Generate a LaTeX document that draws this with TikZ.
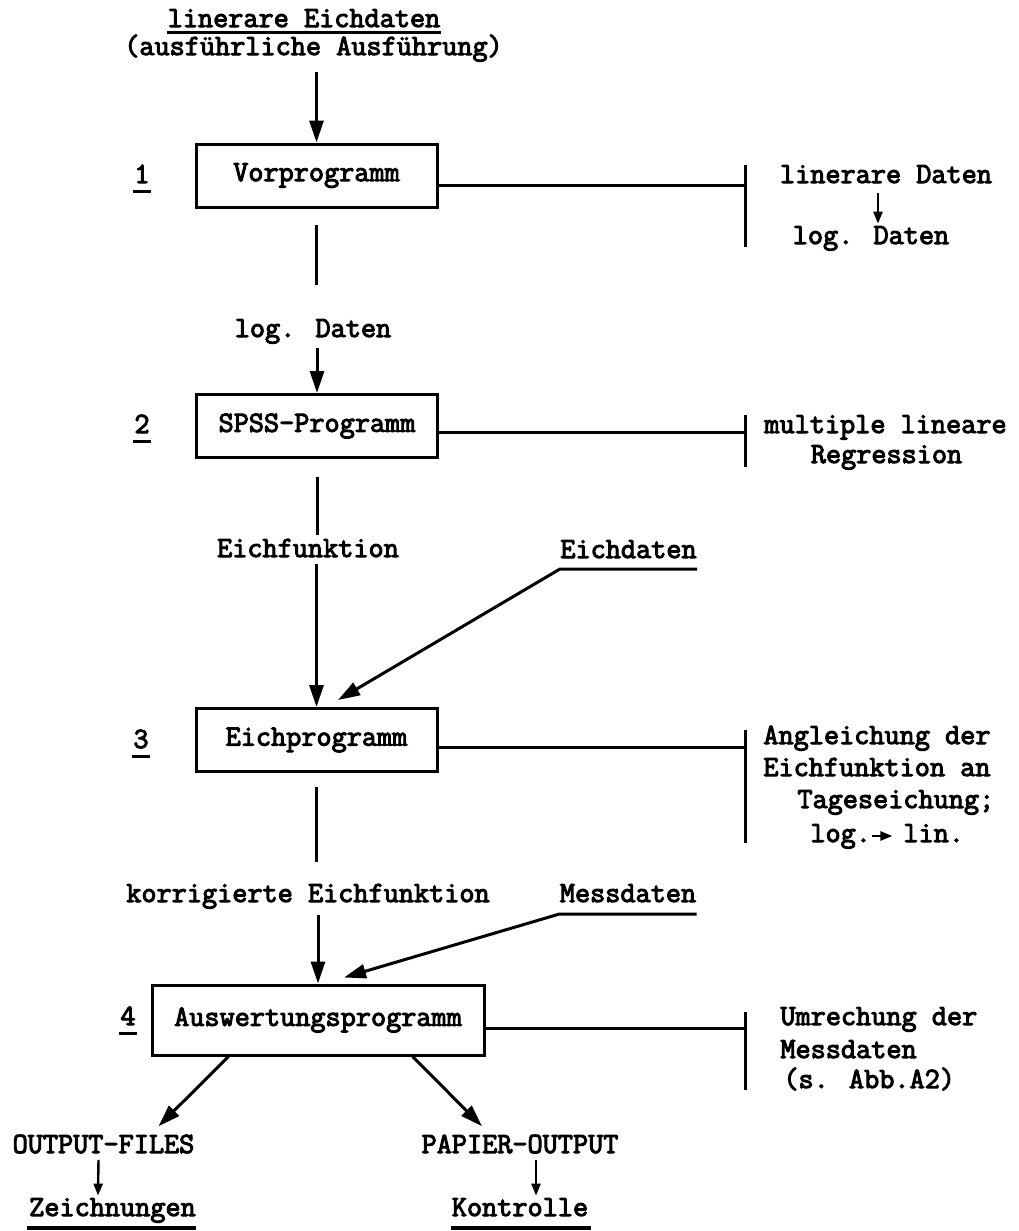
\documentclass[tikz,border=0pt]{standalone}
\usepackage{fontspec}
\newfontfamily\typfam{Latin Modern Mono}[FakeBold=3.5]
\usetikzlibrary{arrows.meta}
\usetikzlibrary{positioning,calc}
\newcommand{\typ}{\typfam\fontsize{14.7}{16}\selectfont}

\begin{document}
\begin{tikzpicture}[x=0.5pt,y=-0.5pt,
  txt/.style={font=\typ,inner sep=0pt,anchor=base},
  txtl/.style={font=\typ,inner sep=0pt,anchor=base west},
  prog/.style={draw,line width=1.5pt,font=\typ,inner sep=0pt,
    minimum width=120.5pt,minimum height=31.5pt},
  flow/.style={line width=1.5pt,-{Triangle[length=11pt,width=7pt]}},
  small/.style={line width=1.2pt,-{Triangle[length=6pt,width=4.5pt]}},
  bar/.style={line width=1.5pt}]
  \useasboundingbox (0,0) rectangle (1018,1231);

  \node (T) [txt] at (304,27) {linerare Eichdaten};
  \node (U) [txt] at (313.5,55) {(ausführliche Ausführung)};
  \draw[bar] ($(T.base west)+(0,5)$) -- ($(T.base east)+(0,5)$);

  \node (P1) [prog] at (316.5,175.5) {Vorprogramm};
  \node (P2) [prog] at (317,426) {SPSS-Programm};
  \node (P3) [prog] at (316.5,740) {Eichprogramm};
  \node (P4) [prog,minimum width=166pt,minimum height=35pt] at (318,1020)
    {Auswertungsprogramm};

  \node (N1) [txt] at (142,183) {1};
  \node (N2) [txt] at (142,433) {2};
  \node (N3) [txt] at (141,748) {3};
  \node (N4) [txt] at (128,1025) {4};
  \foreach \n in {N1,N2,N3,N4}
    \draw[bar] ($(\n.base west)+(-1,8)$) -- ($(\n.base east)+(1,8)$);

  \node (D1) [txt] at (313,337) {log. Daten};
  \node (D2) [txt] at (308,557) {Eichfunktion};
  \node (D3) [txt] at (308,902) {korrigierte Eichfunktion};
  \node (E1) [txt] at (628.5,558) {Eichdaten};
  \node (M1) [txt] at (628,902) {Messdaten};

  \draw[flow] ($(P1.north |- U.south)+(0,10)$) -- (P1.north);
  \draw[bar] ($(P1.south)+(0,16)$) -- ($(P1.south)+(0,76)$);
  \draw[flow] ($(P2.north |- D1.south)+(0,4)$) -- (P2.north);
  \draw[bar] ($(P2.south)+(0,18)$) -- ($(P2.south)+(0,76)$);
  \draw[flow] ($(P3.north |- D2.south)+(0,6)$) -- (P3.north);
  \draw[bar] ($(P3.south)+(0,14)$) -- ($(P3.south)+(0,89)$);
  \draw[flow] ($(P4.north |- D3.south)+(0,6)$) -- (P4.north);

  \draw[flow] ($(E1.base east)+(0,11)$) -- ($(E1.base west)+(0,11)$)
    -- ($(P3.north)+(21.5,-7)$);
  \draw[flow] ($(M1.base east)+(0,12)$) -- ($(M1.base west)+(0,12)$)
    -- ($(P4.north)+(26,-6)$);

  \coordinate (B1) at (745,185);
  \coordinate (B2) at (745,432);
  \coordinate (B3) at (745,747);
  \coordinate (B4) at (745,1028);
  \draw[bar] (P1.east |- B1) -- (B1);
  \draw[bar] (P2.east |- B2) -- (B2);
  \draw[bar] (P3.east |- B3) -- (B3);
  \draw[bar] (P4.east |- B4) -- (B4);
  \draw[bar] ($(B1)+(0,-20)$) -- ($(B1)+(0,62)$);
  \draw[bar] ($(B2)+(0,-17)$) -- ($(B2)+(0,35)$);
  \draw[bar] ($(B3)+(0,-17)$) -- ($(B3)+(0,96)$);
  \draw[bar] ($(B4)+(0,-16)$) -- ($(B4)+(0,62)$);

  \node (R1) [txt] at (886,183) {linerare Daten};
  \node (S1) [txt] at (871,244) {log. Daten};
  \draw[small] ($(R1.base)+(-8,10)$) -- ($(S1.north)+(7,-2)$);

  \node (R2) [txt] at (885.5,433) {multiple lineare};
  \node (S2) [txt] at (886.5,463) {Regression};

  \node (R3) [txtl] at (763,744) {Angleichung der};
  \node (S3) [txtl] at (763,776) {Eichfunktion an};
  \node (V3) [txtl] at (797,808) {Tageseichung;};
  \node (W3) [txtl] at (810,842) {log.};
  \node (X3) [txtl] at (903,842) {lin.};
  \draw[small] ($(W3.base east)+(1,-6)$) -- ($(W3.base east)+(21,-6)$);

  \node (R4) [txtl] at (780,1025) {Umrechung der};
  \node (S4) [txtl] at (780,1058) {Messdaten};
  \node (V4) [txtl] at (783,1088) {(s. Abb.A2)};

  \node (O1) [txt] at (103.5,1153) {OUTPUT-FILES};
  \node (O2) [txt] at (520,1153) {PAPIER-OUTPUT};
  \node (Z1) [txt] at (112.5,1216) {Zeichnungen};
  \node (Z2) [txt] at (520,1216) {Kontrolle};
  \draw[flow] ($(P4.south west)+(78,0)$) -- ($(O1.north)+(55,-8)$);
  \draw[flow] ($(P4.south east)+(-73,0)$) -- ($(O2.north)+(-38,-8)$);
  \draw[small] ($(O1.south)+(-5,6)$) -- ($(Z1.north)+(-14.5,-2)$);
  \draw[small] ($(O2.south)+(16,6)$) -- ($(Z2.north)+(16,-2)$);
  \draw[bar,line width=2pt] ($(Z1.base west)+(-2,12)$) -- ($(Z1.base east)+(0,12)$);
  \draw[bar,line width=2pt] ($(Z2.base west)+(0,12)$) -- ($(Z2.base east)+(2,12)$);
\end{tikzpicture}
\end{document}
